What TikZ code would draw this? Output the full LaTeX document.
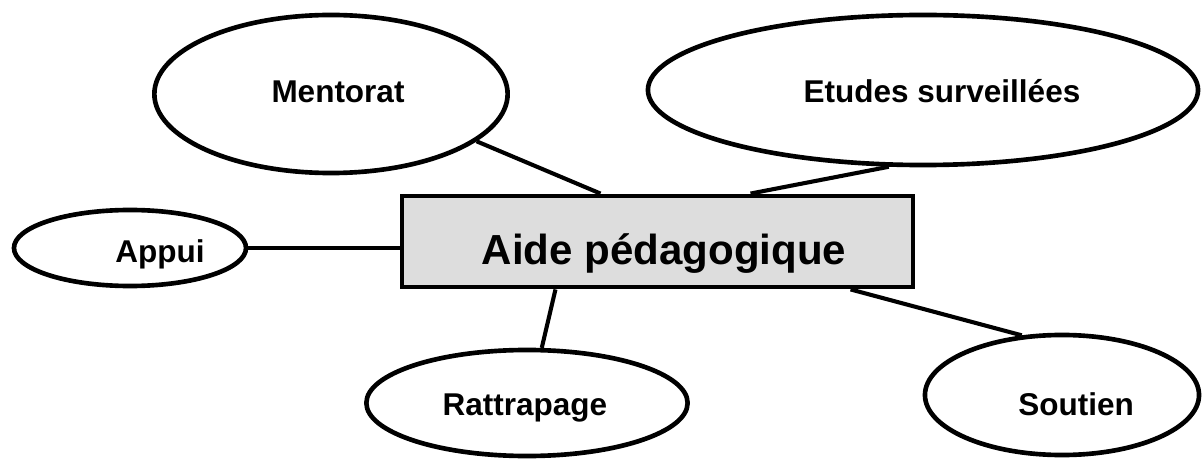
\documentclass[tikz,border=0pt]{standalone}
\usepackage{fontspec}
\setmainfont{Liberation Sans}
\usepackage{tikz}
\usetikzlibrary{%
        shapes.geometric
    }
\definecolor{boxgray}{RGB}{221, 221, 221}
\tikzset{%
    bubble/.style={ellipse, draw, line width=3.3pt, fill=white, inner sep=0pt},
    hubbox/.style={rectangle, draw, line width=3.3pt, fill=boxgray,
        inner sep=0pt, minimum width=12.78cm, minimum height=2.28cm},
    lbl/.style={anchor=base, font=\bfseries\fontsize{22.4}{27}\selectfont},
    biglbl/.style={anchor=base, font=\bfseries\fontsize{29.9}{36}\selectfont},
    link/.style={line width=2.9pt}
}

\begin{document}
\begin{tikzpicture}[x=0.025cm, y=-0.025cm]

    \useasboundingbox (0, 0) rectangle (1204, 459);

    % centre box
    \node[hubbox] (aide) at (657.5, 241.5) {};
    \node[biglbl] (aidetxt) at (664, 264) {Aide pédagogique};

    \node[bubble, minimum width=8.83cm, minimum height=3.95cm]
        (mentorat) at (331, 94) {};
    \node[lbl] (mentorattxt) at (338, 103) {Mentorat};

    \node[bubble, minimum width=13.75cm, minimum height=3.75cm]
        (etudes) at (923, 90) {};
    \node[lbl] (etudestxt) at (942, 103) {Etudes surveillées};

    \node[bubble, minimum width=5.8cm, minimum height=1.9cm]
        (appui) at (130, 248) {};
    \node[lbl] (appuitxt) at (160, 263) {Appui};

    \node[bubble, minimum width=8.03cm, minimum height=2.65cm]
        (rattrapage) at (527, 403) {};
    \node[lbl] (rattrapagetxt) at (525, 415) {Rattrapage};

    \node[bubble, minimum width=6.85cm, minimum height=3cm]
        (soutien) at (1062, 395) {};
    \node[lbl] (soutientxt) at (1076, 415) {Soutien};

    % links to the box
    \draw[link] (mentorat.-18) -- ([xshift=-1.425cm] aide.north);
    \draw[link] (etudes.-114) -- ([xshift=2.325cm] aide.north);
    \draw[link] (appui.east) -- (appui.east -| aide.west);
    \draw[link] ([xshift=-2.55cm] aide.south) -- (rattrapage.75);
    \draw[link] ([xshift=4.825cm] aide.south) -- (soutien.124);

\end{tikzpicture}
\end{document}
